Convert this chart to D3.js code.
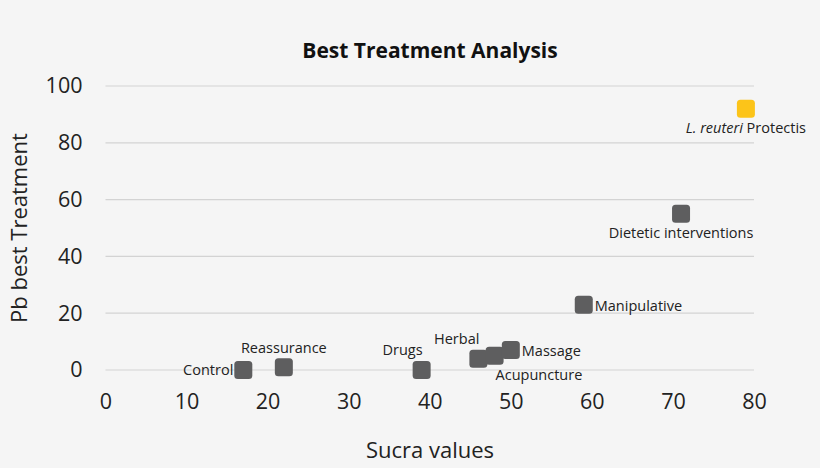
<!DOCTYPE html>
<html><head><meta charset="utf-8">
<script src="https://cdn.jsdelivr.net/npm/d3@7"></script>
<style>
html,body{margin:0;padding:0;background:#f5f5f5;}
text{font-family:"Open Sans","Noto Sans",sans-serif;}
</style></head>
<body>
<svg id="chart" width="820" height="468"></svg>
<script>
// Data
const treatments = ["Control","Reassurance","Drugs","Herbal","Acupuncture","Massage","Manipulative","Dietetic interventions","L. reuteri Protectis"];
const sucraValues = [17, 22, 39, 46, 48, 50, 59, 71, 79];
const pbBest = [0, 1, 0, 4, 5, 7, 23, 55, 92];
const highlighted = ["L. reuteri Protectis"];
const xTicks = [0,10,20,30,40,50,60,70,80];
const yTicks = [0,20,40,60,80,100];

// label placement (style)
const placement = {
  "Control":"left","Reassurance":"top","Drugs":"topleft","Herbal":"topleft",
  "Acupuncture":"bottomright","Massage":"right","Manipulative":"right",
  "Dietetic interventions":"bottom","L. reuteri Protectis":"bottom"
};

const svg = d3.select("#chart");
const W = 820, H = 468;
svg.append("rect").attr("width",W).attr("height",H).attr("fill","#f5f5f5");
const m = {left:105.5, right:66, top:86, bottom:98};
const x = d3.scaleLinear().domain([0,80]).range([m.left, W-m.right]);
const y = d3.scaleLinear().domain([0,100]).range([H-m.bottom, m.top]);

// grid
svg.append("g").selectAll("line").data(yTicks).join("line")
  .attr("x1",x(0)).attr("x2",x(80))
  .attr("y1",d=>y(d)).attr("y2",d=>y(d))
  .attr("stroke","#d3d3d3").attr("stroke-width",1.2);

const FF = '"Open Sans",sans-serif';
// axes
const yAxis = svg.append("g").attr("transform",`translate(${m.left},0)`)
  .call(d3.axisLeft(y).tickValues(yTicks).tickSize(0).tickPadding(23));
yAxis.select(".domain").remove();
yAxis.selectAll("text").attr("font-size",21.5).attr("fill","#222").attr("font-family",FF);

const xAxis = svg.append("g").attr("transform",`translate(0,${H-m.bottom})`)
  .call(d3.axisBottom(x).tickValues(xTicks).tickSize(0).tickPadding(24));
xAxis.select(".domain").remove();
xAxis.selectAll("text").attr("font-size",21.5).attr("fill","#222").attr("font-family",FF);

// titles
svg.append("text").attr("x",430).attr("y",58).attr("text-anchor","middle")
  .attr("font-size",21).attr("font-weight","bold").attr("fill","#111").text("Best Treatment Analysis");
svg.append("text").attr("x",430).attr("y",458).attr("text-anchor","middle")
  .attr("font-size",22).attr("fill","#222").text("Sucra values");
svg.append("text").attr("transform",`translate(27,${(y(0)+y(100))/2}) rotate(-90)`)
  .attr("text-anchor","middle").attr("font-size",22).attr("fill","#222").text("Pb best Treatment");

const data = treatments.map((t,i)=>({name:t, sx:sucraValues[i], pb:pbBest[i]}));
const S = 18;
svg.append("g").selectAll("rect").data(data).join("rect")
  .attr("x",d=>x(d.sx)-S/2).attr("y",d=>y(d.pb)-S/2)
  .attr("width",S).attr("height",S).attr("rx",3.5)
  .attr("fill",d=>highlighted.includes(d.name)?"#fcc419":"#5e5e5f");

const lab = svg.append("g");
data.forEach(d=>{
  const cx = x(d.sx), cy = y(d.pb);
  const p = placement[d.name];
  let tx=cx, ty=cy, anchor="middle";
  if(p==="left"){tx=cx-S/2-1; ty=cy+5; anchor="end";}
  else if(p==="right"){tx=cx+S/2+2; ty=cy+6; anchor="start";}
  else if(p==="top"){tx=cx; ty=cy-14; anchor="middle";}
  else if(p==="topleft"){tx=cx+1; ty=cy-15; anchor="end";}
  else if(p==="bottomright"){tx=cx+1; ty=cy+24; anchor="start";}
  else if(p==="bottom"){tx=cx; ty=cy+24; anchor="middle";}
  const t = lab.append("text").attr("x",tx).attr("y",ty).attr("text-anchor",anchor)
    .attr("font-size",14.5).attr("fill","#222");
  if(d.name.startsWith("L. reuteri")){
    t.append("tspan").attr("font-style","italic").text("L. reuteri");
    t.append("tspan").text(" Protectis");
  } else t.text(d.name);
});
</script>
</body></html>
